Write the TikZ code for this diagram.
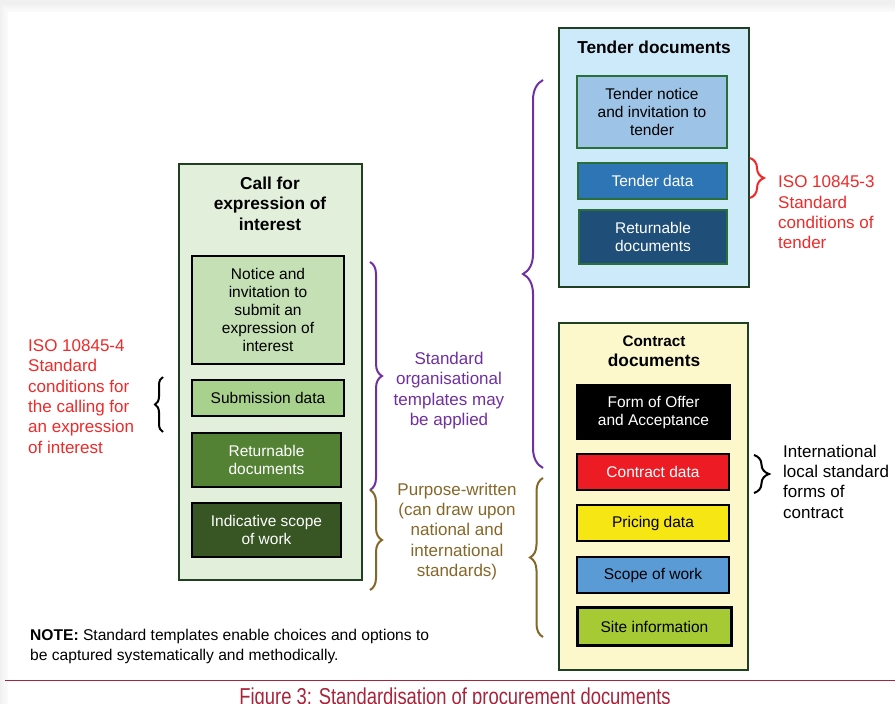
\documentclass[tikz,border=0pt]{standalone}
\usepackage{fontspec}
\setmainfont{Liberation Sans}
\newfontfamily\capfont[FakeStretch=0.8]{Liberation Sans}
\usetikzlibrary{decorations.pathreplacing}
\definecolor{cfeFill}{HTML}{E2EFDA}
\definecolor{outerBorder}{HTML}{213F22}
\definecolor{noticeFill}{HTML}{C5E0B4}
\definecolor{subFill}{HTML}{A9D18E}
\definecolor{retFill}{HTML}{548235}
\definecolor{indFill}{HTML}{375623}
\definecolor{tenderFill}{HTML}{CDEAFA}
\definecolor{tnFill}{HTML}{9DC3E6}
\definecolor{tdFill}{HTML}{2E75B6}
\definecolor{trFill}{HTML}{1F4E79}
\definecolor{tenderInner}{HTML}{2A6E3A}
\definecolor{contractFill}{HTML}{FCF8CC}
\definecolor{cdFill}{HTML}{ED1C24}
\definecolor{pdFill}{HTML}{F5E614}
\definecolor{swFill}{HTML}{5B9BD5}
\definecolor{siFill}{HTML}{A6CA33}
\definecolor{purp}{HTML}{7030A0}
\definecolor{brown}{HTML}{86672A}
\definecolor{isored}{HTML}{EE2A2A}
\definecolor{capred}{HTML}{A8243A}
\tikzset{
  outerbox/.style={draw=outerBorder, line width=2.5pt, inner sep=0pt},
  innerbox/.style={draw=black, line width=2pt, inner sep=0pt, align=center,
    font=\fontsize{15.5}{18}\selectfont},
  tinner/.style={innerbox, draw=tenderInner},
  boxtitle/.style={align=center, inner sep=0pt, font=\fontsize{17.3}{20.5}\selectfont\bfseries},
  annot/.style={inner sep=0pt, font=\fontsize{17}{20.3}\selectfont},
  bracedeco/.style={decorate, decoration={brace, amplitude=#1}, line width=2pt},
}
\begin{document}
\begin{tikzpicture}[x=1pt, y=-1pt]
\useasboundingbox (0,0) rectangle (895,704);
% page background with soft shadow
\fill[black!6] (0,0) rectangle (895,704);
\foreach \i in {1,...,8}{\fill[white, opacity=0.18] (8-\i*0.9,12-\i*0.9) rectangle (895,704);}
\fill[white] (8,12) rectangle (895,704);

% ---------- Call for expression of interest ----------
\node[outerbox, fill=cfeFill, minimum width=183pt, minimum height=416pt] (cfe) at (270.5,372) {};
\node[boxtitle] (cfet) at (270,203.5) {Call for\\expression of\\interest};
\node[innerbox, fill=noticeFill, minimum width=152pt, minimum height=108pt] (notice) at (268,310)
  {Notice and\\invitation to\\submit an\\expression of\\interest};
\node[innerbox, fill=subFill, minimum width=152pt, minimum height=36pt] (subm) at (268,398) {Submission data};
\node[innerbox, fill=retFill, text=white, minimum width=149pt, minimum height=54pt] (cret) at (266.5,460)
  {Returnable\\documents};
\node[innerbox, fill=indFill, text=white, minimum width=149pt, minimum height=54pt] (indic) at (266.5,530)
  {Indicative scope\\of work};

% ---------- Tender documents ----------
\node[outerbox, fill=tenderFill, minimum width=190pt, minimum height=259pt] (tender) at (654,157.5) {};
\node[boxtitle] (tendert) at (654,47) {Tender documents};
\node[tinner, fill=tnFill, minimum width=150pt, minimum height=72pt] (tnotice) at (652,112)
  {Tender notice\\and invitation to\\tender};
\node[tinner, fill=tdFill, text=white, minimum width=149pt, minimum height=36pt] (tdata) at (652.5,181) {Tender data};
\node[tinner, fill=trFill, text=white, minimum width=148pt, minimum height=54pt] (tret) at (653,237)
  {Returnable\\documents};

% ---------- Contract documents ----------
\node[outerbox, fill=contractFill, minimum width=189pt, minimum height=347pt] (contract) at (653.5,496.5) {};
\node[boxtitle] (contractt) at (654,351) {{\fontsize{15.3}{20.5}\selectfont Contract}\\documents};
\node[innerbox, fill=black, text=white, minimum width=153pt, minimum height=54pt] (offer) at (653.5,412)
  {Form of Offer\\and Acceptance};
\node[innerbox, fill=cdFill, text=white, minimum width=152pt, minimum height=36pt] (cdata) at (653,472) {Contract data};
\node[innerbox, fill=pdFill, minimum width=152pt, minimum height=36pt] (pdata) at (653,523) {Pricing data};
\node[innerbox, fill=swFill, minimum width=152pt, minimum height=36pt] (scope) at (653,575) {Scope of work};
\node[innerbox, fill=siFill, line width=3.5pt, minimum width=154pt, minimum height=38pt] (site) at (654.5,626.5) {Site information};

% ---------- brace end points ----------
\coordinate (bL1) at (163,432); \coordinate (bL2) at (163,377);
\coordinate (pL1) at (370,262); \coordinate (pL2) at (370,490);
\coordinate (pR1) at (543,468); \coordinate (pR2) at (543,80);
\coordinate (brL1) at (370,490); \coordinate (brL2) at (370,590);
\coordinate (brR1) at (543,637); \coordinate (brR2) at (543,478);
\coordinate (rB1) at (750,158); \coordinate (rB2) at (750,198);
\coordinate (kB1) at (754,455); \coordinate (kB2) at (754,493);

\draw[bracedeco=8pt, black] (bL1) -- (bL2);
\draw[bracedeco=12pt, purp] (pL1) -- (pL2);
\draw[bracedeco=20pt, purp] (pR1) -- (pR2);
\draw[bracedeco=12pt, brown] (brL1) -- (brL2);
\draw[bracedeco=13pt, brown] (brR1) -- (brR2);
\draw[bracedeco=14pt, isored] (rB1) -- (rB2);
\draw[bracedeco=15pt, black] (kB1) -- (kB2);

% ---------- annotations ----------
\node[annot, text=isored, align=left, anchor=west] (iso4) at (28,396.5)
  {ISO 10845-4\\Standard\\conditions for\\the calling for\\an expression\\of interest};
\node[annot, text=purp, align=center] (stdorg) at (449,390.5)
  {Standard\\organisational\\templates may\\be applied};
\node[annot, text=brown, align=center] (purpose) at (457,531.5)
  {Purpose-written\\(can draw upon\\national and\\international\\standards)};
\node[annot, text=isored, align=left, anchor=west] (iso3) at (778,212.5)
  {ISO 10845-3\\Standard\\conditions of\\tender};
\node[annot, align=left, anchor=west] (intl) at (783,481.5)
  {International\\local standard\\forms of\\contract};
\node[inner sep=0pt, align=left, anchor=west, font=\fontsize{15.6}{20}\selectfont] (note) at (30,646)
  {\textbf{NOTE:} Standard templates enable choices and options to\\be captured systematically and methodically.};

% ---------- caption ----------
\draw[capred, line width=1pt] (5,680.5) -- (895,680.5);
\node[inner sep=0pt, anchor=base, text=capred, font=\capfont\fontsize{23}{26}\selectfont] (caption) at (455,704.5)
  {Figure 3: Standardisation of procurement documents};
\end{tikzpicture}
\end{document}
